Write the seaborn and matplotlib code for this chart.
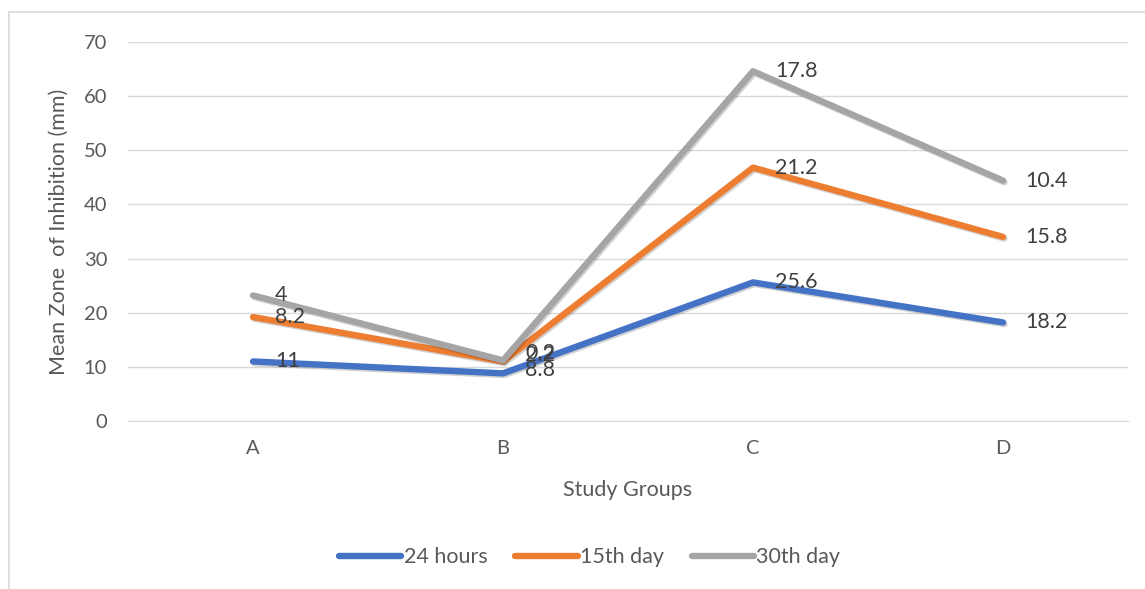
import pandas as pd
import matplotlib.pyplot as plt
import matplotlib.patheffects as pe
from matplotlib.patches import Rectangle
import seaborn as sns

# Values (stacked line chart, labels show raw values)
groups = ["A", "B", "C", "D"]
series_names = ["24 hours", "15th day", "30th day"]
hours_24 = [11, 8.8, 25.6, 18.2]
day_15 = [8.2, 2.2, 21.2, 15.8]
day_30 = [4, 0.2, 17.8, 10.4]
colors = ["#4472C4", "#ED7D31", "#A5A5A5"]


def main() -> None:
    raw = {"24 hours": hours_24, "15th day": day_15, "30th day": day_30}
    rows = []
    running = [0.0] * len(groups)
    for name in series_names:
        for i, g in enumerate(groups):
            running[i] += raw[name][i]
            rows.append({"group": g, "series": name, "value": raw[name][i],
                         "stacked": running[i], "x": i})
    df = pd.DataFrame(rows)

    sns.set_style("white")
    plt.rcParams["font.family"] = ["Lato", "DejaVu Sans"]
    text_color = "#595959"

    fig = plt.figure(figsize=(11.45, 5.89), dpi=100)
    ax = fig.add_axes([0.1118, 0.2852, 0.8734, 0.6435])

    # chart area border
    fig.patches.append(Rectangle((9 / 1145, -0.1), 1.2, 1 - 12 / 589 + 0.1,
                                 transform=fig.transFigure, fill=False,
                                 edgecolor="#d9d9d9", linewidth=1.2))

    sns.lineplot(data=df, x="x", y="stacked", hue="series",
                 hue_order=series_names, palette=colors, linewidth=4.6,
                 ax=ax, legend=False, sort=False)
    for line in ax.lines:
        line.set_solid_capstyle("round")
        line.set_path_effects([pe.SimpleLineShadow(offset=(1, -1.2), alpha=0.18),
                               pe.Normal()])

    # data labels to the right of each point; B labels nudged up a bit, as in Excel
    for _, r in df.iterrows():
        dy = 0
        if r["group"] == "B":
            dy = 2.5 if r["series"] == "24 hours" else 5
        ax.annotate(f"{r['value']:g}", (r["x"], r["stacked"]),
                    xytext=(16, dy), textcoords="offset points",
                    ha="left", va="center", fontsize=15.5, color="#404040")

    ax.set_xlim(-0.5, 3.5)
    ax.set_ylim(0, 70)
    ax.set_yticks(range(0, 71, 10))
    ax.set_xticks(range(len(groups)))
    ax.set_xticklabels(groups)
    ax.tick_params(axis="both", length=0, labelsize=14.5, colors=text_color, pad=15)
    ax.tick_params(axis="x", pad=14)
    ax.yaxis.grid(True, color="#d9d9d9", linewidth=1)
    for s in ax.spines.values():
        s.set_visible(False)
    ax.spines["bottom"].set_visible(True)
    ax.spines["bottom"].set_color("#d9d9d9")

    ax.set_xlabel("")
    ax.set_ylabel("")
    fig.text(0.548, 0.168, "Study Groups", ha="center", va="center",
             fontsize=15.5, color=text_color)
    fig.text(0.051, 0.607, "Mean Zone  of Inhibition (mm)", ha="center",
             va="center", rotation=90, fontsize=15.5, color=text_color)

    handles = [plt.Line2D([], [], color=c, linewidth=4.6, solid_capstyle="round")
               for c in colors]
    fig.legend(handles, series_names, loc="center", bbox_to_anchor=(0.515, 0.054),
               ncol=3, frameon=False, fontsize=15.5, handlelength=2.9,
               handletextpad=0.1, columnspacing=1.3, labelcolor=text_color)

    fig.savefig("out.png", dpi=100)


if __name__ == "__main__":
    main()
